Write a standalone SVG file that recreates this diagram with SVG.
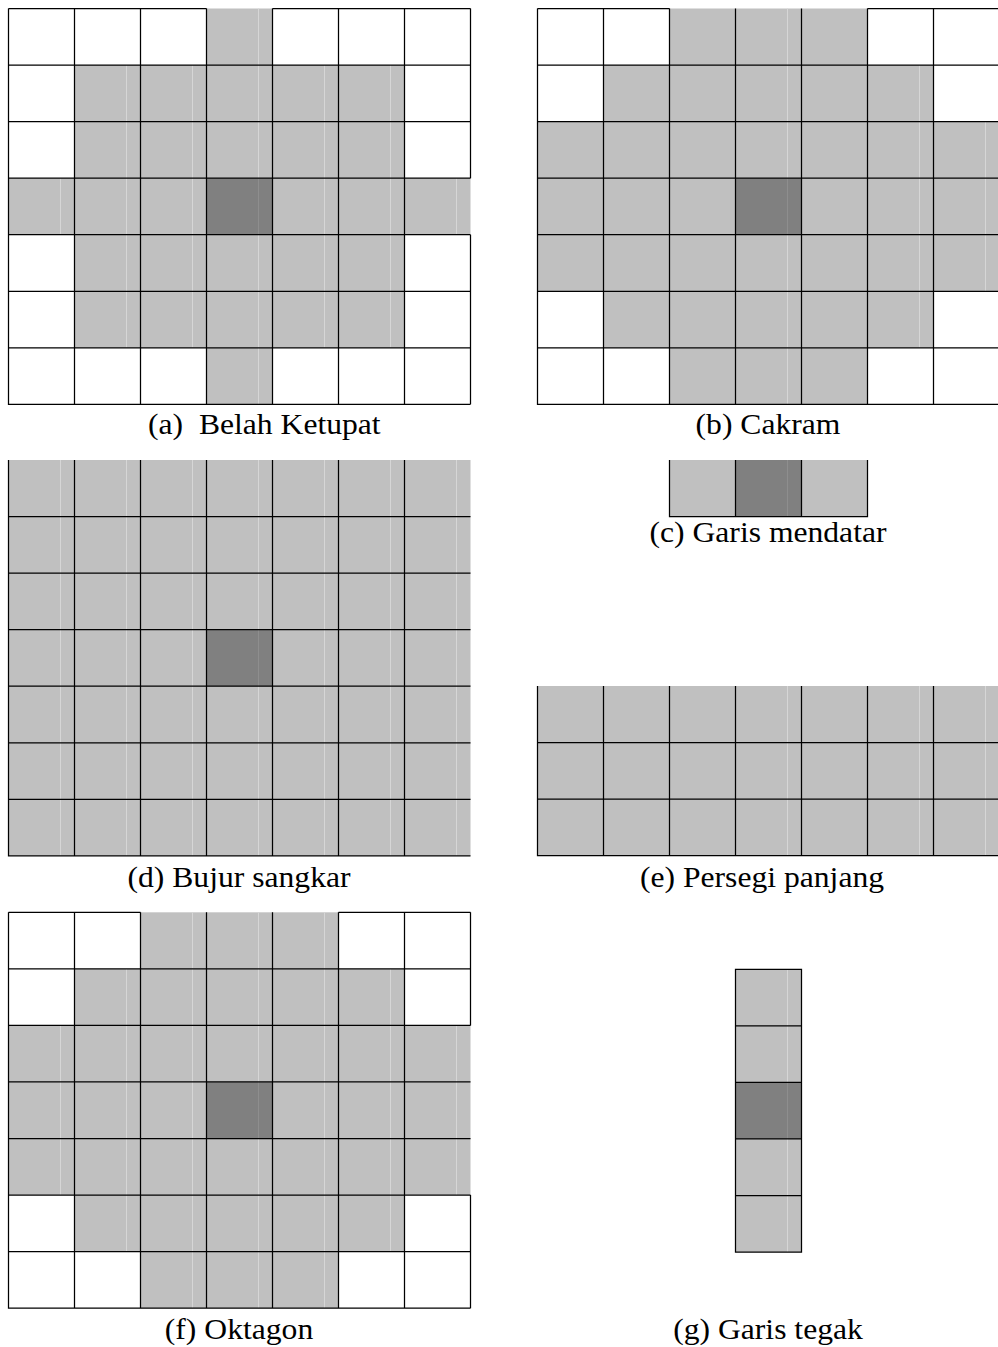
<svg xmlns="http://www.w3.org/2000/svg" width="998" height="1347" viewBox="0 0 998 1347">
<style>
.g{fill:#c0c0c0}
.d{fill:#808080}
.al{stroke:#d6d6d6;stroke-width:1;fill:none}
.ad{stroke:#8e8e8e;stroke-width:1;fill:none}
.k{stroke:#000;stroke-width:1.25;fill:none}
.t{font-family:"Liberation Serif","Times New Roman",serif;font-size:28.5px;fill:#000;white-space:pre}
</style>
<rect x="0" y="0" width="998" height="1347" fill="#fff"/>

<g id="fig-a">
<rect class="g" x="206.5" y="8.5" width="66" height="56.55"/>
<rect class="g" x="74.5" y="65.05" width="330" height="282.75"/>
<rect class="g" x="8.5" y="178.15" width="462" height="56.55"/>
<rect class="g" x="206.5" y="347.8" width="66" height="56.55"/>
<rect class="d" x="206.5" y="178.15" width="66" height="56.55"/>
<path class="al" d="M60.5 178.15V234.7M126.5 65.05V347.8M192.5 65.05V347.8M324.5 65.05V347.8M390.5 65.05V347.8M456.5 178.15V234.7M258.5 8.5V178.15M258.5 234.7V404.35"/>
<path class="ad" d="M258.5 178.15V234.7"/>
<path class="k" d="M8.5 8.5V404.35H470.5M8.5 65.05H470.5M8.5 121.6H470.5M8.5 178.15H470.5M8.5 234.7H470.5M8.5 291.25H470.5M8.5 347.8H470.5M74.5 8.5V404.35M140.5 8.5V404.35M206.5 8.5V404.35M272.5 8.5V404.35M338.5 8.5V404.35M404.5 8.5V404.35M8.5 8.5H206.5M272.5 8.5H470.5M470.5 8.5V178.15M470.5 234.7V404.35"/>
<text class="t" xml:space="preserve" transform="translate(148 434) scale(1.11 1)">(a)  Belah Ketupat</text>
</g>

<g id="fig-b">
<rect class="g" x="669.5" y="8.5" width="198" height="56.55"/>
<rect class="g" x="603.5" y="65.05" width="330" height="282.75"/>
<rect class="g" x="537.5" y="121.6" width="462" height="169.65"/>
<rect class="g" x="669.5" y="347.8" width="198" height="56.55"/>
<rect class="d" x="735.5" y="178.15" width="66" height="56.55"/>
<path class="al" d="M787.5 8.5V178.15M787.5 234.7V404.35M919.5 65.05V347.8M985.5 121.6V291.25"/>
<path class="ad" d="M787.5 178.15V234.7"/>
<path class="k" d="M537.5 8.5V404.35H999M537.5 65.05H999M537.5 121.6H999M537.5 178.15H999M537.5 234.7H999M537.5 291.25H999M537.5 347.8H999M603.5 8.5V404.35M669.5 8.5V404.35M735.5 8.5V404.35M801.5 8.5V404.35M867.5 8.5V404.35M933.5 8.5V404.35M537.5 8.5H669.5M867.5 8.5H999"/>
<text class="t" text-anchor="middle" transform="translate(768 434) scale(1.11 1)">(b) Cakram</text>
</g>

<g id="fig-c">
<rect class="g" x="669.5" y="460" width="198" height="56.5"/>
<rect class="d" x="735.5" y="460" width="66" height="56.5"/>
<path class="ad" d="M787.5 460V516.5"/>
<path class="k" d="M669.5 460V516.5H867.5V460M735.5 460V516.5M801.5 460V516.5"/>
<text class="t" text-anchor="middle" transform="translate(768 542) scale(1.11 1)">(c) Garis mendatar</text>
</g>

<g id="fig-d">
<rect class="g" x="8.5" y="460" width="462" height="395.85"/>
<rect class="d" x="206.5" y="629.65" width="66" height="56.55"/>
<path class="al" d="M60.5 460V855.85M126.5 460V855.85M192.5 460V855.85M324.5 460V855.85M390.5 460V855.85M456.5 460V855.85M258.5 460V629.65M258.5 686.2V855.85"/>
<path class="ad" d="M258.5 629.65V686.2"/>
<path class="k" d="M8.5 460V855.85H470.5M8.5 516.55H470.5M8.5 573.1H470.5M8.5 629.65H470.5M8.5 686.2H470.5M8.5 742.75H470.5M8.5 799.3H470.5M74.5 460V855.85M140.5 460V855.85M206.5 460V855.85M272.5 460V855.85M338.5 460V855.85M404.5 460V855.85"/>
<text class="t" text-anchor="middle" transform="translate(239 887) scale(1.11 1)">(d) Bujur sangkar</text>
</g>

<g id="fig-e">
<rect class="g" x="537.5" y="686" width="462" height="169.65"/>
<path class="al" d="M787.5 686V855.65M919.5 686V855.65M985.5 686V855.65"/>
<path class="k" d="M537.5 686V855.65H999M537.5 742.55H999M537.5 799.1H999M603.5 686V855.65M669.5 686V855.65M735.5 686V855.65M801.5 686V855.65M867.5 686V855.65M933.5 686V855.65"/>
<text class="t" text-anchor="middle" transform="translate(762 887) scale(1.11 1)">(e) Persegi panjang</text>
</g>

<g id="fig-f">
<rect class="g" x="140.5" y="912.3" width="198" height="56.55"/>
<rect class="g" x="74.5" y="968.85" width="330" height="282.75"/>
<rect class="g" x="8.5" y="1025.4" width="462" height="169.65"/>
<rect class="g" x="140.5" y="1251.6" width="198" height="56.55"/>
<rect class="d" x="206.5" y="1081.95" width="66" height="56.55"/>
<path class="al" d="M60.5 1025.4V1195.05M126.5 968.85V1251.6M192.5 912.3V1308.15M324.5 912.3V1308.15M390.5 968.85V1251.6M456.5 1025.4V1195.05M258.5 912.3V1081.95M258.5 1138.5V1308.15"/>
<path class="ad" d="M258.5 1081.95V1138.5"/>
<path class="k" d="M8.5 912.3V1308.15H470.5M8.5 968.85H470.5M8.5 1025.4H470.5M8.5 1081.95H470.5M8.5 1138.5H470.5M8.5 1195.05H470.5M8.5 1251.6H470.5M74.5 912.3V1308.15M140.5 912.3V1308.15M206.5 912.3V1308.15M272.5 912.3V1308.15M338.5 912.3V1308.15M404.5 912.3V1308.15M8.5 912.3H140.5M338.5 912.3H470.5M470.5 912.3V1025.4M470.5 1195.05V1308.15"/>
<text class="t" text-anchor="middle" transform="translate(239 1339) scale(1.11 1)">(f) Oktagon</text>
</g>

<g id="fig-g">
<rect class="g" x="735.5" y="969.3" width="66" height="282.75"/>
<rect class="d" x="735.5" y="1082.4" width="66" height="56.55"/>
<path class="al" d="M787.5 969.3V1082.4M787.5 1138.95V1252.05"/>
<path class="ad" d="M787.5 1082.4V1138.95"/>
<path class="k" d="M735.5 969.3H801.5V1252.05H735.5ZM735.5 1025.85H801.5M735.5 1082.4H801.5M735.5 1138.95H801.5M735.5 1195.5H801.5"/>
<text class="t" text-anchor="middle" transform="translate(768 1339) scale(1.11 1)">(g) Garis tegak</text>
</g>
</svg>
